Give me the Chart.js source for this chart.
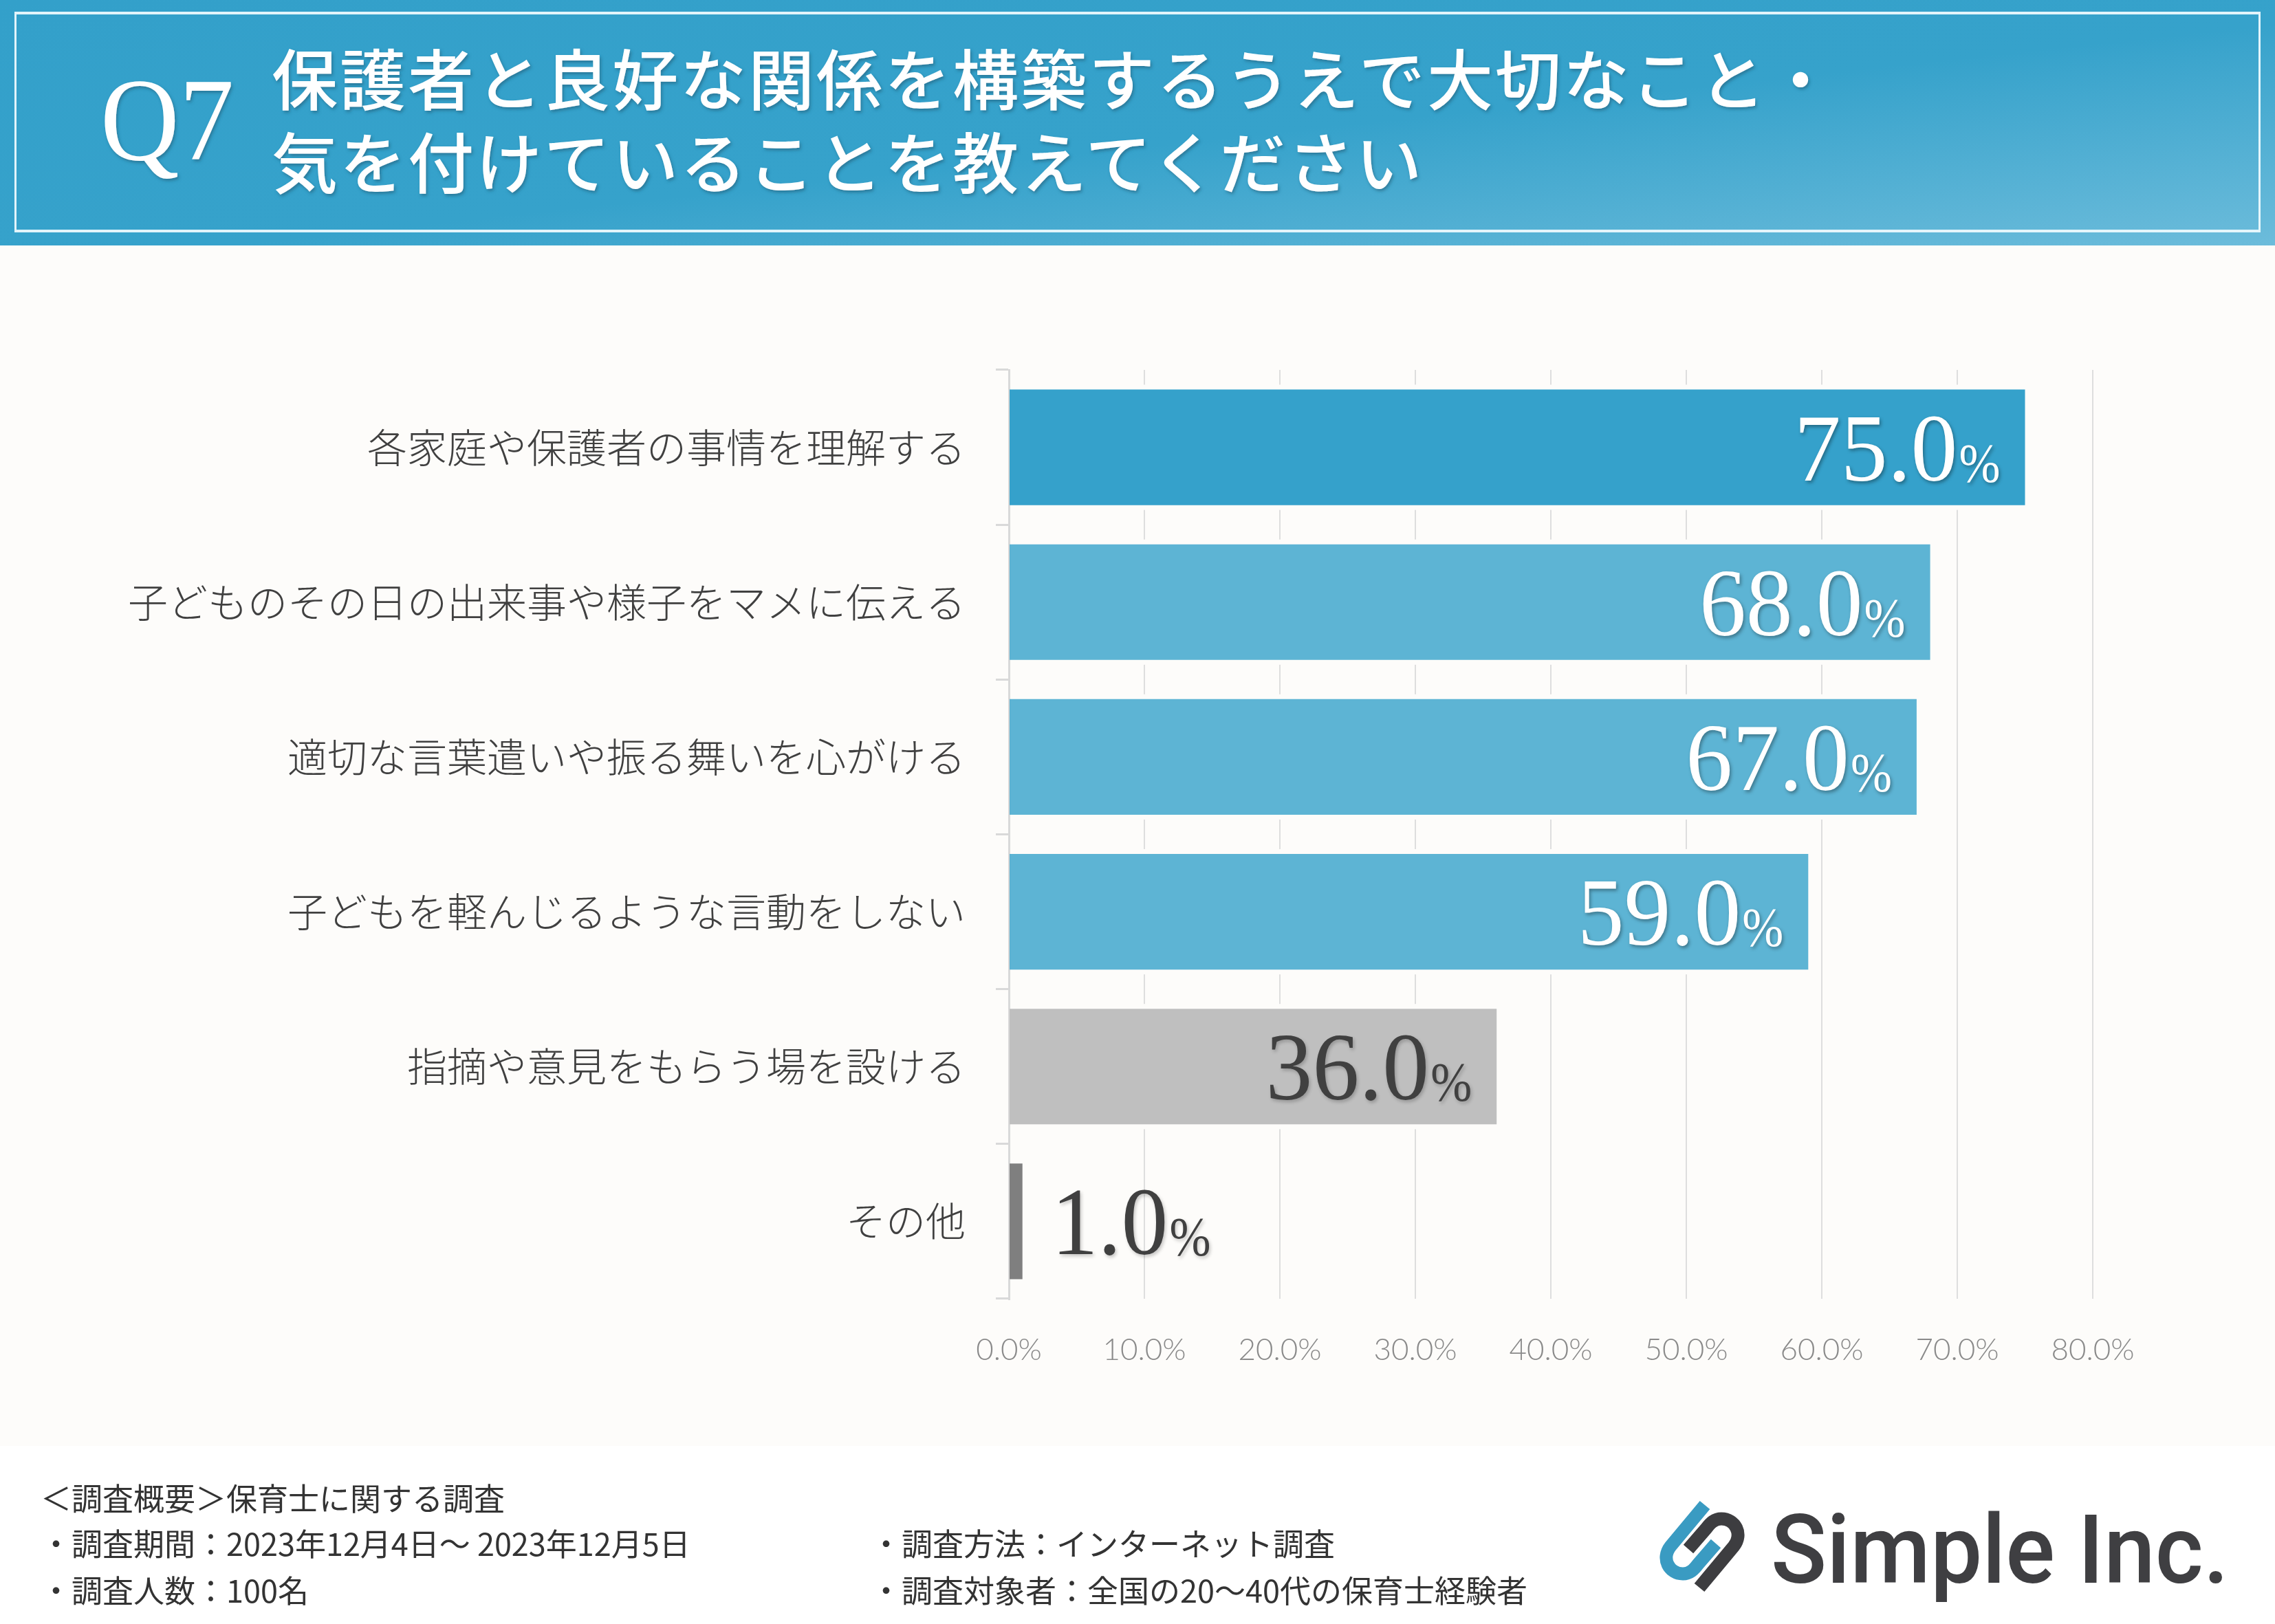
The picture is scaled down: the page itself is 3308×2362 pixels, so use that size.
<!DOCTYPE html>
<html lang="ja">
<head>
<meta charset="utf-8">
<title>Q7 保護者と良好な関係を構築するうえで大切なこと</title>
<script src="https://cdn.jsdelivr.net/npm/chart.js@4.4.1/dist/chart.umd.min.js"></script>
<style>
  html, body { margin: 0; padding: 0; }
  body { width: 3308px; height: 2362px; position: relative; overflow: hidden; background: #ffffff; }
  .header {
    position: absolute; left: 0; top: 0; width: 3308px; height: 357px;
    background: linear-gradient(to bottom right, #33a0ca 0%, #36a2cb 55%, #6cbcdb 100%);
  }
  .frame {
    position: absolute; left: 21px; top: 17px; width: 3266px; height: 321px; box-sizing: border-box;
    border: 4px solid rgba(236, 249, 253, 0.95); border-left-width: 3px; border-right-width: 3px;
  }
  .plot-bg { position: absolute; left: 0; top: 357px; width: 3308px; height: 1746px; background: #fdfcfa; }
  #chart { position: absolute; left: 0; top: 357px; }
  svg.overlay { position: absolute; left: 0; top: 0; pointer-events: none; }
</style>
</head>
<body>
<div class="header"><div class="frame"></div></div>
<div class="plot-bg"></div>
<canvas id="chart" width="3308" height="1746"></canvas>

<svg class="overlay" width="3308" height="2362" viewBox="0 0 3308 2362">
  <defs>
    <filter id="titleShadow" x="-5%" y="-20%" width="110%" height="140%">
      <feDropShadow dx="2" dy="3" stdDeviation="2" flood-color="#1b5873" flood-opacity="0.55"/>
    </filter>
  </defs>
  <!-- header -->
  <g filter="url(#titleShadow)" fill="#ffffff">
    <text x="146" y="232" font-family="'Liberation Serif', serif" font-size="172" textLength="194" lengthAdjust="spacingAndGlyphs">Q7</text>
    <text x="395" y="110" dominant-baseline="central" font-family="'Noto Sans CJK JP', sans-serif" font-weight="500" font-size="96" letter-spacing="3">保護者と良好な関係を構築するうえで大切なこと・</text>
    <text x="395" y="231" dominant-baseline="central" font-family="'Noto Sans CJK JP', sans-serif" font-weight="500" font-size="96" letter-spacing="3">気を付けていることを教えてください</text>
  </g>

  <!-- footer -->
  <g fill="#333333" font-family="'Noto Sans CJK JP', sans-serif" font-size="45" font-weight="400" dominant-baseline="central">
    <text x="59" y="2177">＜調査概要＞保育士に関する調査</text>
    <text x="59" y="2243">・調査期間：2023年12月4日～ 2023年12月5日</text>
    <text x="59" y="2311">・調査人数：100名</text>
    <text x="1266" y="2243">・調査方法：インターネット調査</text>
    <text x="1266" y="2311">・調査対象者：全国の20～40代の保育士経験者</text>
  </g>

  <!-- logo -->
  <g transform="translate(2415,2185)" fill="none" stroke-width="19" stroke-linejoin="round">
    <path d="M 64,4 L 14,64 C 0,82 12,104 32,104 C 42,104 48,98 54,90 L 80,60" stroke="#3a9bc2"/>
    <path d="M 64,4 L 14,64 C 0,82 12,104 32,104 C 42,104 48,98 54,90 L 80,60" stroke="#3d3d40" transform="rotate(180 60 64)"/>
  </g>
  <text x="2575" y="2302" fill="#3f3f42" font-family="Roboto, sans-serif" font-weight="500" font-size="139" textLength="666" lengthAdjust="spacingAndGlyphs">Simple Inc.</text>
</svg>

<script>
// 回答項目と割合（%）
const categories = [
    '各家庭や保護者の事情を理解する',
    '子どものその日の出来事や様子をマメに伝える',
    '適切な言葉遣いや振る舞いを心がける',
    '子どもを軽んじるような言動をしない',
    '指摘や意見をもらう場を設ける',
    'その他'
];
const values = [75.0, 68.0, 67.0, 59.0, 36.0, 1.0];

const barColors = [
    '#35a1cb',
    'rgba(53, 161, 203, 0.8)',
    'rgba(53, 161, 203, 0.8)',
    'rgba(53, 161, 203, 0.8)',
    '#bfbfbf',
    '#7f7f7f'
];
const labelColors = ['#ffffff', '#ffffff', '#ffffff', '#ffffff', '#404040', '#404040'];

// x axis ticks: 0.0% ... 80.0%
const xMin = 0;
const xMax = 80;
const xStep = 10;

// light halo around each bar (grid lines stop short of the bars)
const barHalo = {
    id: 'barHalo',
    beforeDatasetsDraw(chart) {
        const ctx = chart.ctx;
        const meta = chart.getDatasetMeta(0);
        ctx.save();
        ctx.fillStyle = '#fdfcfa';
        meta.data.forEach(bar => {
            const p = bar.getProps(['x', 'y', 'base', 'height'], true);
            ctx.fillRect(p.base + 2, p.y - p.height / 2 - 7, p.x - p.base + 5, p.height + 14);
        });
        ctx.restore();
    }
};

// big serif value labels, small "%" sign
const valueLabels = {
    id: 'valueLabels',
    afterDatasetsDraw(chart) {
        const ctx = chart.ctx;
        const meta = chart.getDatasetMeta(0);
        meta.data.forEach((bar, i) => {
            const p = bar.getProps(['x', 'y', 'base'], true);
            const num = values[i].toFixed(1);

            ctx.save();
            ctx.font = '140px "Liberation Serif", serif';
            const numW = ctx.measureText(num).width * 0.97;
            ctx.font = '80px "Liberation Serif", serif';
            const pctW = ctx.measureText('%').width * 0.9;
            const gap = 2;
            const total = numW + gap + pctW;

            const inside = (p.x - p.base) > total + 80;
            const startX = inside ? p.x - 36 - total : p.x + 42;
            const baseY = p.y + 48;

            ctx.fillStyle = inside ? labelColors[i] : '#404040';
            ctx.shadowColor = labelColors[i] === '#ffffff' && inside ? 'rgba(0, 0, 0, 0.35)' : 'rgba(0, 0, 0, 0.22)';
            ctx.shadowBlur = 5;
            ctx.shadowOffsetX = 2;
            ctx.shadowOffsetY = 3;
            ctx.textBaseline = 'alphabetic';
            ctx.textAlign = 'left';

            ctx.save();
            ctx.translate(startX, baseY);
            ctx.scale(0.97, 1);
            ctx.font = '140px "Liberation Serif", serif';
            ctx.fillText(num, 0, 0);
            ctx.restore();

            ctx.save();
            ctx.translate(startX + numW + gap, baseY + 2);
            ctx.scale(0.9, 1);
            ctx.font = '80px "Liberation Serif", serif';
            ctx.fillText('%', 0, 0);
            ctx.restore();

            ctx.restore();
        });
    }
};

const chart = new Chart(document.getElementById('chart'), {
    type: 'bar',
    data: {
        labels: categories,
        datasets: [{
            data: values,
            backgroundColor: barColors,
            borderWidth: 0,
            barPercentage: 0.747,
            categoryPercentage: 1
        }]
    },
    options: {
        indexAxis: 'y',
        responsive: false,
        devicePixelRatio: 1,
        animation: false,
        layout: { padding: { top: 181, right: 265, bottom: 0, left: 0 } },
        plugins: {
            legend: { display: false },
            tooltip: { enabled: false }
        },
        scales: {
            x: {
                min: xMin,
                max: xMax,
                ticks: {
                    stepSize: xStep,
                    callback: v => v.toFixed(1) + '%',
                    color: '#8a8a8a',
                    padding: 48,
                    maxRotation: 0,
                    font: { family: 'Lato, "Open Sans", sans-serif', size: 44, weight: '300' }
                },
                grid: { color: '#dedede', lineWidth: 2, drawTicks: false },
                border: { display: false },
                afterFit(scale) { scale.height = 214; }
            },
            y: {
                ticks: {
                    color: '#404040',
                    padding: 44,
                    autoSkip: false,
                    font: { family: '"Noto Sans CJK JP", sans-serif', size: 58, weight: '300' }
                },
                grid: { drawOnChartArea: false, drawTicks: true, tickLength: 19, color: '#d9d9d9', lineWidth: 3 },
                border: { display: true, color: '#d9d9d9', width: 3 },
                afterFit(scale) { scale.width = 1467; }
            }
        }
    },
    plugins: [barHalo, valueLabels]
});
</script>
</body>
</html>
